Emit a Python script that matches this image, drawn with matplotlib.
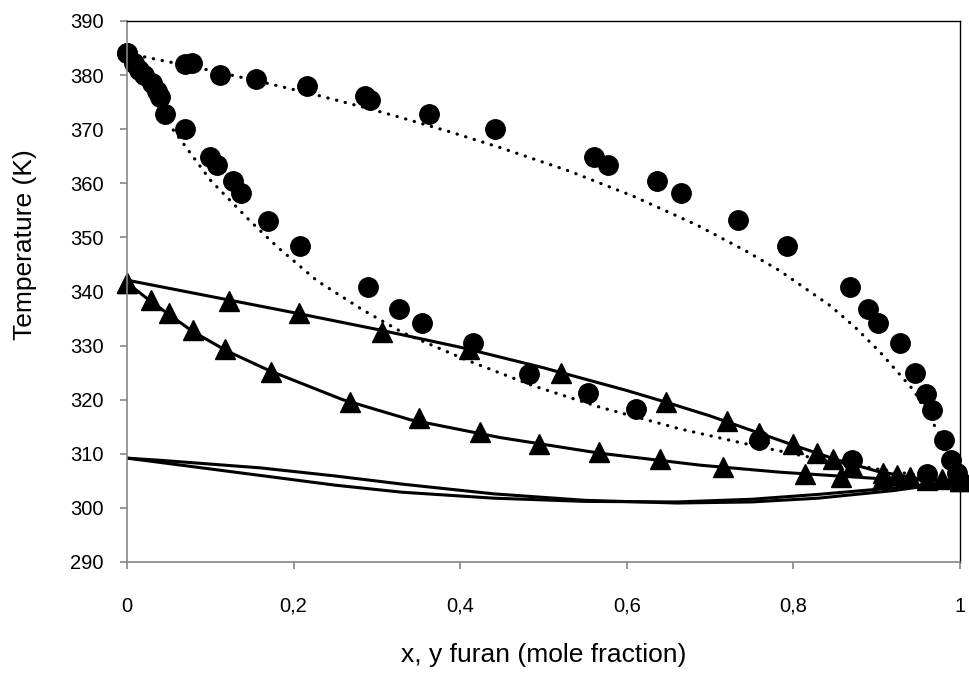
import matplotlib
matplotlib.use("Agg")
import matplotlib.pyplot as plt

plt.rcParams['font.family'] = ['Liberation Sans', 'DejaVu Sans']

# ---- System 1 (circles): experimental bubble points (x) and dew points (y)
circ_bub_x = [0.0, 0.008, 0.014, 0.020, 0.030, 0.036, 0.040, 0.046, 0.070, 0.100, 0.108,
              0.127, 0.137, 0.169, 0.208, 0.289, 0.326, 0.354, 0.415, 0.483, 0.553,
              0.611, 0.759, 0.870, 0.960, 1.0]
circ_bub_T = [384.0, 382.2, 380.9, 380.0, 378.5, 377.0, 375.9, 372.9, 370.0, 364.9, 363.3,
              360.4, 358.2, 353.1, 348.5, 340.8, 336.7, 334.2, 330.5, 324.8, 321.2,
              318.2, 312.6, 308.9, 306.3, 305.0]
circ_dew_x = [0.0, 0.070, 0.078, 0.112, 0.155, 0.216, 0.286, 0.292, 0.362, 0.442, 0.561,
              0.577, 0.636, 0.665, 0.733, 0.792, 0.868, 0.889, 0.901, 0.928, 0.946,
              0.959, 0.966, 0.981, 0.989, 0.996]
circ_dew_T = [384.0, 382.0, 382.2, 380.1, 379.2, 377.9, 376.1, 375.4, 372.8, 370.0, 364.8,
              363.4, 360.4, 358.2, 353.2, 348.5, 340.8, 336.7, 334.2, 330.4, 324.9,
              321.0, 318.1, 312.5, 308.9, 306.4]

# ---- System 1 model curves (dotted)
mod1_dew_x = [0.0, 0.020, 0.096, 0.160, 0.228, 0.288, 0.330, 0.388, 0.448, 0.532, 0.608,
              0.684, 0.744, 0.784, 0.844, 0.874, 0.904, 0.944, 0.976, 1.0]
mod1_dew_T = [384.0, 383.4, 381.0, 378.8, 376.3, 373.9, 372.1, 369.5, 366.6, 362.2, 357.6,
              352.3, 347.4, 343.8, 337.4, 333.4, 328.8, 321.8, 313.5, 304.9]
mod1_bub_x = [0.0, 0.010, 0.025, 0.052, 0.100, 0.148, 0.180, 0.228, 0.283, 0.331, 0.408,
              0.487, 0.568, 0.664, 0.744, 0.812, 0.900, 1.0]
mod1_bub_T = [384.0, 381.3, 377.4, 370.6, 360.6, 353.0, 348.3, 342.0, 336.6, 332.4, 327.3,
              322.6, 318.6, 314.6, 311.8, 309.6, 307.2, 304.9]

# ---- System 2 (triangles): experimental bubble and dew points
tri_bub_x = [0.0, 0.029, 0.050, 0.079, 0.118, 0.173, 0.268, 0.350, 0.424, 0.494, 0.567,
             0.640, 0.716, 0.814, 0.857, 0.907, 0.960, 1.0]
tri_bub_T = [341.5, 338.5, 336.0, 332.9, 329.3, 325.2, 319.6, 316.6, 314.0, 311.9, 310.3,
             309.1, 307.6, 306.2, 305.7, 305.5, 305.2, 305.0]
tri_dew_x = [0.0, 0.122, 0.207, 0.306, 0.410, 0.521, 0.647, 0.720, 0.759, 0.800, 0.828,
             0.847, 0.870, 0.907, 0.924, 0.940, 0.978, 1.0]
tri_dew_T = [341.5, 338.2, 336.0, 332.5, 329.3, 325.0, 319.6, 316.1, 313.9, 311.9, 310.2,
             309.1, 307.8, 306.4, 306.0, 305.7, 305.3, 305.0]

# ---- System 2 model curves (solid)
mod2_dew_x = [0.0, 0.10, 0.20, 0.30, 0.40, 0.50, 0.60, 0.65, 0.70, 0.75, 0.80, 0.85,
              0.90, 0.95, 1.0]
mod2_dew_T = [342.1, 339.1, 336.1, 333.0, 329.7, 325.9, 321.7, 319.4, 317.0, 314.3, 311.6,
              309.0, 306.8, 305.4, 304.9]
mod2_bub_x = [0.0, 0.030, 0.079, 0.120, 0.172, 0.259, 0.340, 0.448, 0.568, 0.688, 0.784,
              0.904, 1.0]
mod2_bub_T = [341.6, 338.0, 332.6, 329.0, 325.3, 320.0, 316.3, 313.0, 310.1, 307.9, 306.6,
              305.4, 304.9]

# ---- System 3 model curves (solid, azeotropic)
mod3_a_x = [0.0, 0.04, 0.16, 0.25, 0.33, 0.44, 0.55, 0.66, 0.75, 0.83, 0.92, 1.0]
mod3_a_T = [309.2, 308.8, 307.4, 305.9, 304.4, 302.6, 301.4, 300.9, 301.1, 301.8, 303.2, 304.9]
mod3_b_x = [0.0, 0.04, 0.08, 0.16, 0.25, 0.33, 0.44, 0.55, 0.66, 0.75, 0.83, 0.92, 1.0]
mod3_b_T = [309.2, 308.4, 307.6, 306.0, 304.2, 302.9, 301.8, 301.2, 301.1, 301.6, 302.5,
            303.7, 304.9]

x_ticks = [0, 0.2, 0.4, 0.6, 0.8, 1.0]
x_tick_labels = ['0', '0,2', '0,4', '0,6', '0,8', '1']
y_ticks = [290, 300, 310, 320, 330, 340, 350, 360, 370, 380, 390]

W, H = 969, 673
L, R, T, B = 127, 960, 21, 562
fig = plt.figure(figsize=(W / 100, H / 100), dpi=100)
ax = fig.add_axes([L / W, 1 - B / H, (R - L) / W, (B - T) / H])

dot = dict(color='black', lw=2.3, linestyle=(0, (0.1, 2.7)), dash_capstyle='round')
ax.plot(mod1_dew_x, mod1_dew_T, **dot)
ax.plot(mod1_bub_x, mod1_bub_T, **dot)
solid = dict(color='black', lw=2.2, solid_joinstyle='round')
ax.plot(mod2_dew_x, mod2_dew_T, **solid)
ax.plot(mod2_bub_x, mod2_bub_T, **solid)
ax.plot(mod3_a_x, mod3_a_T, **solid)
ax.plot(mod3_b_x, mod3_b_T, **solid)

ax.plot(circ_bub_x, circ_bub_T, 'o', color='black', ms=14, clip_on=False)
ax.plot(circ_dew_x, circ_dew_T, 'o', color='black', ms=14, clip_on=False)
ax.plot(tri_bub_x, tri_bub_T, '^', color='black', ms=14, clip_on=False)
ax.plot(tri_dew_x, tri_dew_T, '^', color='black', ms=14, clip_on=False)

ax.set_xlim(0, 1)
ax.set_ylim(290, 390)
ax.set_xticks(x_ticks)
ax.set_xticklabels(x_tick_labels)
ax.set_yticks(y_ticks)

for s in ['left', 'bottom']:
    ax.spines[s].set_color('#868686')
    ax.spines[s].set_linewidth(1.2)
for s in ['top', 'right']:
    ax.spines[s].set_color('black')
    ax.spines[s].set_linewidth(1.0)
ax.tick_params(axis='both', direction='out', length=5, width=1.2, color='#868686',
               labelsize=14.5, labelcolor='black')
ax.tick_params(axis='x', pad=20)
ax.tick_params(axis='y', pad=12)

ax.set_xlabel('x, y furan (mole fraction)', fontsize=19, va='center', ha='center')
ax.xaxis.set_label_coords(0.5, (B - 655) / (B - T))
ax.set_ylabel('Temperature (K)', fontsize=19, va='center', ha='center')
ax.yaxis.set_label_coords((25 - L) / (R - L), (B - 245) / (B - T))

fig.savefig('out.png', dpi=100)
